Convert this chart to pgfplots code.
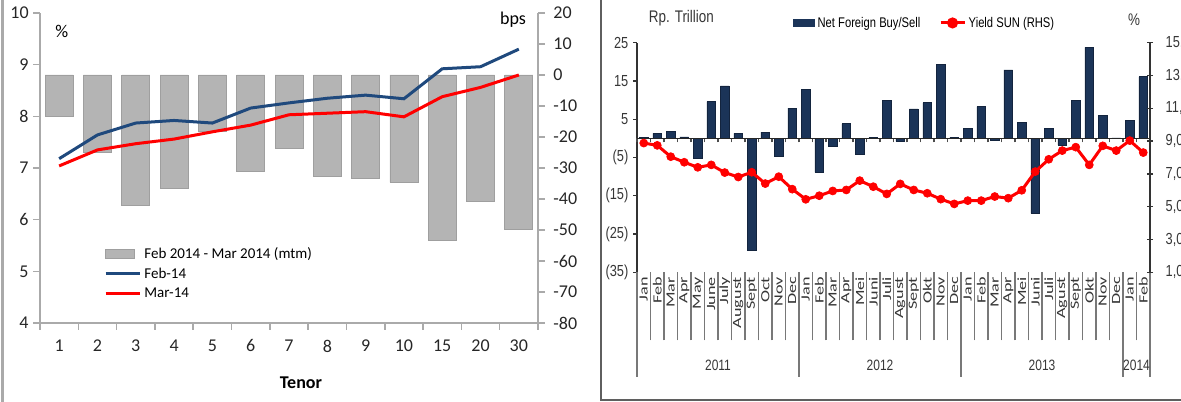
\documentclass[border=0pt]{standalone}
\usepackage{pgfplots}
\usepackage{pgfplotstable}
\pgfplotsset{compat=1.18}
\usepackage{fontspec}
\setmainfont{Carlito}
\newfontfamily\narrowsf[FakeStretch=0.8]{Liberation Sans}
\newfontfamily\monthsf[FakeStretch=1.45]{Carlito}

\definecolor{febblue}{RGB}{31,73,125}
\definecolor{marred}{RGB}{255,0,0}
\definecolor{barnavy}{RGB}{27,52,88}
\definecolor{bargray}{RGB}{180,180,180}
\definecolor{axgray}{RGB}{170,170,170}
\definecolor{sepgray}{RGB}{120,120,120}
\definecolor{txtgray}{RGB}{55,55,55}
\definecolor{framegray}{RGB}{95,95,95}

% font sizes
\newcommand\lfs{\fontsize{13.5}{16}\selectfont}
\newcommand\legl{\fontsize{11.25}{13.5}\selectfont}
\newcommand\rfs{\narrowsf\fontsize{12}{14}\selectfont}
\newcommand\legr{\narrowsf\fontsize{10.5}{12}\selectfont}
\newcommand\mfs{\monthsf\fontsize{9.4}{11}\selectfont}
\newcommand\yfs{\narrowsf\fontsize{11.25}{13}\selectfont}
\newcommand\tfs{\narrowsf\fontsize{12.6}{15}\selectfont}

% Yield curve by tenor (%), and month-to-month change (bps)
\pgfplotstableread{
idx feb  mar  chg
1   7.18 7.04 -13.4
2   7.64 7.35 -25.0
3   7.87 7.47 -42.0
4   7.92 7.56 -36.5
5   7.87 7.70 -18.3
6   8.16 7.83 -31.2
7   8.26 8.03 -23.7
8   8.35 8.06 -32.8
9   8.41 8.09 -33.3
10  8.34 7.99 -34.6
11  8.92 8.38 -53.4
12  8.96 8.56 -40.9
13  9.30 8.80 -49.7
}\tenortable

% Monthly net foreign buy/sell (Rp. trillion) and SUN yield (%), Jan 2011 - Feb 2014
\pgfplotstableread{
idx flow  yield
0    0.3  8.88
1    1.3  8.74
2    1.75 8.05
3    0.4  7.71
4   -5.2  7.40
5    9.6  7.55
6   13.7  7.08
7    1.3  6.81
8  -29.2  7.10
9    1.6  6.41
10  -4.8  6.83
11   7.9  6.07
12  12.8  5.45
13  -8.9  5.67
14  -2.0  5.96
15   3.8  6.02
16  -4.1  6.59
17   0.2  6.22
18   9.9  5.78
19  -0.8  6.39
20   7.7  6.02
21   9.3  5.82
22  19.4  5.46
23   0.3  5.17
24   2.6  5.37
25   8.3  5.37
26  -0.5  5.62
27  17.9  5.52
28   4.1  6.00
29 -19.6  7.14
30   2.6  7.89
31  -1.7  8.42
32   9.9  8.63
33  23.8  7.55
34   5.9  8.71
35   0.1  8.42
36   4.6  9.03
37  16.1  8.30
}\flowtable

\begin{document}
\begin{tikzpicture}
\useasboundingbox (0pt,0pt) rectangle (885.75pt,301.5pt);
\clip (0pt,0pt) rectangle (885.75pt,301.5pt);

% panel frames
\draw[axgray, line width=1.6pt] (1.9pt,0pt) -- (1.9pt,301.5pt);
\draw[framegray, line width=1.8pt] (450.75pt,301.5pt) -- (450.75pt,1.5pt) -- (885.75pt,1.5pt);

% ---------------- left panel: yield curve ----------------
% month-to-month change, right axis (bps)
\begin{axis}[
  at={(30pt,59.25pt)}, anchor=south west, scale only axis,
  width=373.5pt, height=232.5pt,
  xmin=0.5, xmax=13.5, ymin=-80, ymax=20,
  axis x line=none, axis y line*=right,
  axis line style={axgray, line width=1.5pt},
  ytick={-80,-70,...,20},
  tick align=outside, major tick length=5pt,
  tick style={axgray, line width=1.2pt},
  /pgf/number format/assume math mode=true,
  yticklabel style={font=\lfs, text=black!85, xshift=3pt},
  ybar, bar width=21pt,
]
\addplot[draw=gray!75, fill=bargray, line width=0.6pt]
  table[x=idx,y=chg]{\tenortable};
\end{axis}

% yield levels, left axis (%)
\begin{axis}[
  at={(30pt,59.25pt)}, anchor=south west, scale only axis,
  width=373.5pt, height=232.5pt,
  xmin=0.5, xmax=13.5, ymin=4, ymax=10,
  axis x line*=bottom, axis y line*=left,
  axis line style={axgray, line width=1.5pt},
  xtick={0.5,1.5,...,13.5},
  x tick label as interval,
  xticklabels={1,2,3,4,5,6,7,8,9,10,15,20,30},
  ytick={4,5,...,10},
  tick align=outside, major tick length=5pt,
  tick style={axgray, line width=1.2pt},
  ticklabel style={font=\lfs, text=black!85},
  xticklabel style={yshift=-4pt},
  /pgf/number format/assume math mode=true,
  clip=false,
  legend style={at={(0.12,0.262)}, anchor=north west, draw=none, fill=none,
    font=\legl, row sep=1.5pt},
  legend cell align=left,
]
\addlegendimage{legend image code/.code={
  \draw[gray!75, fill=bargray, line width=0.6pt] (0pt,-3.5pt) rectangle (22pt,3.5pt);}}
\addlegendentry{Feb 2014 - Mar 2014 (mtm)}
\addplot[febblue, line width=2.25pt,
  legend image code/.code={\draw[febblue,line width=2.25pt] (0pt,0pt) -- (26pt,0pt);}]
  table[x=idx,y=feb]{\tenortable};
\addlegendentry{Feb-14}
\addplot[marred, line width=2.25pt,
  legend image code/.code={\draw[marred,line width=2.25pt] (0pt,0pt) -- (26pt,0pt);}]
  table[x=idx,y=mar]{\tenortable};
\addlegendentry{Mar-14}
\node[font=\lfs] at (axis description cs:0.044,0.939) {\%};
\node[font=\lfs] at (axis description cs:0.95,0.977) {bps};
\node[font=\bfseries\lfs] at (axis description cs:0.524,-0.194) {Tenor};
\end{axis}

% ---------------- right panel: foreign flows and yield ----------------
% net foreign buy/sell bars, left axis
\begin{axis}[
  at={(477.75pt,97.275pt)}, anchor=south west, scale only axis,
  width=384.75pt, height=172.2pt,
  xmin=-0.5, xmax=37.5, ymin=-35, ymax=25,
  axis x line=none, axis y line*=left,
  axis line style={black!80, line width=1pt},
  ytick={-35,-25,...,25},
  yticklabels={(35),(25),(15),(5),5,15,25},
  tick align=outside, major tick length=3pt,
  tick style={black!80, line width=1pt},
  yticklabel style={font=\rfs, text=txtgray},
  ybar, bar width=6.4pt,
]
\addplot[draw=barnavy!70!black, fill=barnavy, line width=0.5pt]
  table[x=idx,y=flow]{\flowtable};
\end{axis}

% zero line with category ticks
\begin{axis}[
  at={(477.75pt,97.275pt)}, anchor=south west, scale only axis,
  width=384.75pt, height=172.2pt,
  xmin=-0.5, xmax=37.5, ymin=-35, ymax=25,
  axis x line*=middle, axis y line=none,
  axis line style={black!85, line width=1pt},
  xtick={-0.5,0.5,...,37.5}, xticklabels={},
  tick align=outside, major tick length=3pt,
  tick style={black!70, line width=0.8pt},
]
\end{axis}

% month and year labels
\begin{axis}[
  at={(477.75pt,97.275pt)}, anchor=south west, scale only axis,
  width=384.75pt, height=172.2pt,
  xmin=-0.5, xmax=37.5, ymin=0, ymax=1,
  axis y line=none, axis x line*=bottom,
  x axis line style={draw=none},
  xtick={-0.5,0.5,...,37.5},
  x tick label as interval,
  xticklabels={Jan,Feb,Mar,Apr,May,June,July,August,Sept,Oct,Nov,Dec,
    Jan,Feb,Mar,Apr,Mei,Juni,Juli,Agust,Sept,Okt,Nov,Dec,
    Jan,Feb,Mar,Apr,Mei,Juni,Juli,Agust,Sept,Okt,Nov,Dec,
    Jan,Feb},
  major tick length=0pt,
  minor xtick={-0.5,0.5,...,37.5},
  minor tick length=51pt,
  tick align=outside,
  minor tick style={sepgray, line width=1.3pt},
  major tick style={draw=none},
  xticklabel style={font=\mfs, text=txtgray, rotate=90, anchor=east},
  clip=false,
]
\pgfplotsinvokeforeach{-0.5,11.5,23.5,35.5,37.5}{
  \draw[sepgray, line width=1.3pt] (axis cs:#1,0) -- ++(0pt,-78.75pt);
}
\node[font=\yfs, text=txtgray, yshift=-69.75pt] at (axis cs:5.5,0) {2011};
\node[font=\yfs, text=txtgray, yshift=-69.75pt] at (axis cs:17.5,0) {2012};
\node[font=\yfs, text=txtgray, yshift=-69.75pt] at (axis cs:29.5,0) {2013};
\node[font=\yfs, text=txtgray, yshift=-69.75pt] at (axis cs:36.5,0) {2014};
\end{axis}

% SUN yield line, right axis
\begin{axis}[
  at={(477.75pt,97.275pt)}, anchor=south west, scale only axis,
  width=384.75pt, height=172.2pt,
  xmin=-0.5, xmax=37.5, ymin=1, ymax=15,
  axis x line=none, axis y line*=right,
  axis line style={black!80, line width=1pt},
  ytick={1,3,...,15},
  yticklabels={{1,0},{3,0},{5,0},{7,0},{9,0},{11,0},{13,0},{15,0}},
  tick align=center, major tick length=4.5pt,
  tick style={black!80, line width=1pt},
  yticklabel style={font=\rfs, text=txtgray, xshift=6pt},
  clip=false,
  legend columns=2,
  legend style={at={(0.296,1.086)}, anchor=west, draw=none, fill=none, font=\legr,
    /tikz/every even column/.append style={column sep=12pt}},
]
\addlegendimage{legend image code/.code={\fill[barnavy] (0pt,-2.6pt) rectangle (16pt,2.6pt);}}
\addlegendentry{Net Foreign Buy/Sell}
\addplot[marred, line width=2.25pt, mark=*, mark size=3pt,
  mark options={fill=marred, draw=marred, line width=0.5pt},
  legend image code/.code={\draw[marred,line width=2.25pt] (0pt,0pt) -- (18pt,0pt);
    \fill[marred] (9pt,0pt) circle (3pt);}]
  table[x=idx,y=yield]{\flowtable};
\addlegendentry{Yield SUN (RHS)}
\node[font=\tfs, text=txtgray, anchor=west] at (axis description cs:0.014,1.108) {Rp. Trillion};
\node[font=\tfs, text=txtgray] at (axis description cs:0.969,1.099) {\%};
\end{axis}
\end{tikzpicture}
\end{document}
